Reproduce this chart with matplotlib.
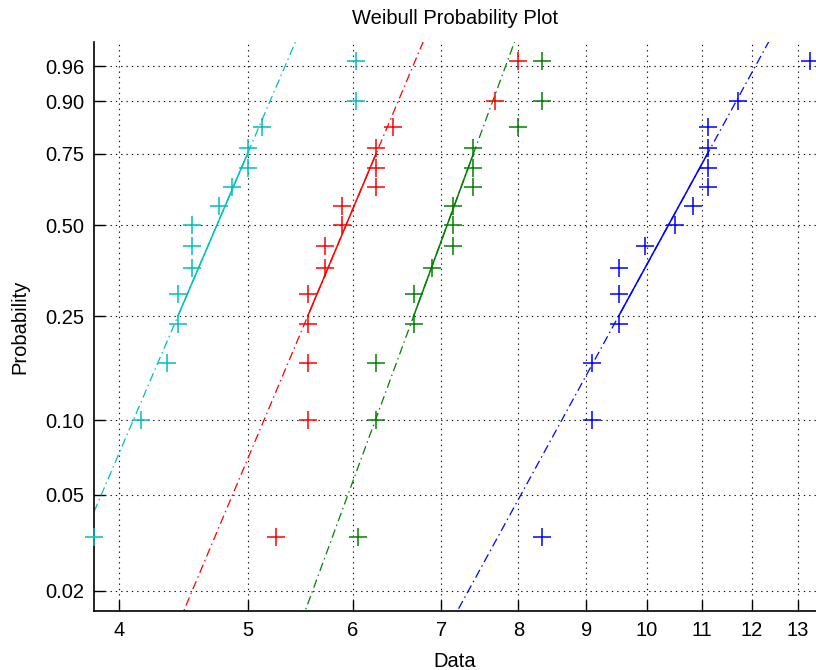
import numpy as np
import matplotlib
matplotlib.use("Agg")
import matplotlib.pyplot as plt

plt.rcParams['font.family'] = ['Liberation Sans', 'DejaVu Sans']

# sorted samples, one column per series (n = 15 each)
col_blue = [8.33, 9.09, 9.09, 9.52, 9.52, 9.52, 9.97, 10.50, 10.84, 11.11, 11.11, 11.11, 11.11, 11.71, 13.28]
col_green = [6.06, 6.25, 6.25, 6.67, 6.67, 6.89, 7.14, 7.14, 7.14, 7.40, 7.40, 7.40, 8.00, 8.33, 8.33]
col_red = [5.25, 5.55, 5.55, 5.55, 5.55, 5.72, 5.72, 5.89, 5.89, 6.25, 6.25, 6.25, 6.44, 7.68, 8.00]
col_cyan = [3.83, 4.155, 4.35, 4.43, 4.43, 4.54, 4.54, 4.54, 4.76, 4.87, 5.00, 5.00, 5.13, 6.04, 6.04]

series = [col_blue, col_green, col_red, col_cyan]
colors = [(0, 0, 1), (0, 0.5, 0), (1, 0, 0), (0, 0.75, 0.75)]

prob_ticks = [0.02, 0.05, 0.10, 0.25, 0.50, 0.75, 0.90, 0.96]
prob_labels = ['0.02', '0.05', '0.10', '0.25', '0.50', '0.75', '0.90', '0.96']
x_ticks = [4, 5, 6, 7, 8, 9, 10, 11, 12, 13]
x_lim = (3.83, 13.41)
p_lim = (0.0165, 0.983)


def wbl(p):
    p = np.asarray(p, dtype=float)
    return np.log(-np.log(1 - p))


def prctile(x, q):
    # matlab style percentile
    x = np.sort(x)
    n = len(x)
    pos = q * n + 0.5
    i = int(np.floor(pos))
    f = pos - i
    return x[i - 1] + f * (x[i] - x[i - 1])


fig = plt.figure(figsize=(8.16, 6.70), dpi=100)
ax = fig.add_axes([94 / 816, 1 - 611 / 670, 1 - 94 / 816, (611 - 42) / 670])
ax.set_xscale('log')

grid_ls = (0, (1.2, 3.6))
for t in x_ticks:
    ax.axvline(t, color='0.05', lw=0.8, ls=grid_ls, zorder=0)
for p in prob_ticks:
    ax.axhline(wbl(p), color='0.05', lw=0.8, ls=grid_ls, zorder=0)

for data, c in zip(series, colors):
    n = len(data)
    pp = (np.arange(1, n + 1) - 0.5) / n
    ax.plot(data, wbl(pp), '+', color=c, ms=13, mew=1.1, clip_on=False, zorder=3)

    q1, q3 = prctile(data, 0.25), prctile(data, 0.75)
    slope = (wbl(0.75) - wbl(0.25)) / (np.log(q3) - np.log(q1))
    xx = np.array(x_lim)
    yy = wbl(0.25) + slope * (np.log(xx) - np.log(q1))
    ax.plot(xx, yy, color=c, lw=0.9, ls=(0, (7, 3, 1.2, 3)), zorder=2)
    ax.plot([q1, q3], [wbl(0.25), wbl(0.75)], color=c, lw=1.1, zorder=2)

ax.set_xlim(*x_lim)
ax.set_ylim(wbl(p_lim[0]), wbl(p_lim[1]))
ax.set_xticks(x_ticks)
ax.set_xticklabels([str(t) for t in x_ticks])
ax.xaxis.set_minor_locator(matplotlib.ticker.NullLocator())
ax.set_yticks(wbl(prob_ticks))
ax.set_yticklabels(prob_labels)

ax.tick_params(direction='in', length=8, width=1, labelsize=14.5, colors='black', pad=7)
ax.spines['top'].set_visible(False)
ax.spines['right'].set_visible(False)
for s in ('left', 'bottom'):
    ax.spines[s].set_linewidth(1.2)

ax.set_title('Weibull Probability Plot', fontsize=14.5, pad=13)
ax.set_xlabel('Data', fontsize=14.5, labelpad=9)
ax.set_ylabel('Probability', fontsize=14.5, labelpad=11)

fig.savefig('out.png', dpi=100)
